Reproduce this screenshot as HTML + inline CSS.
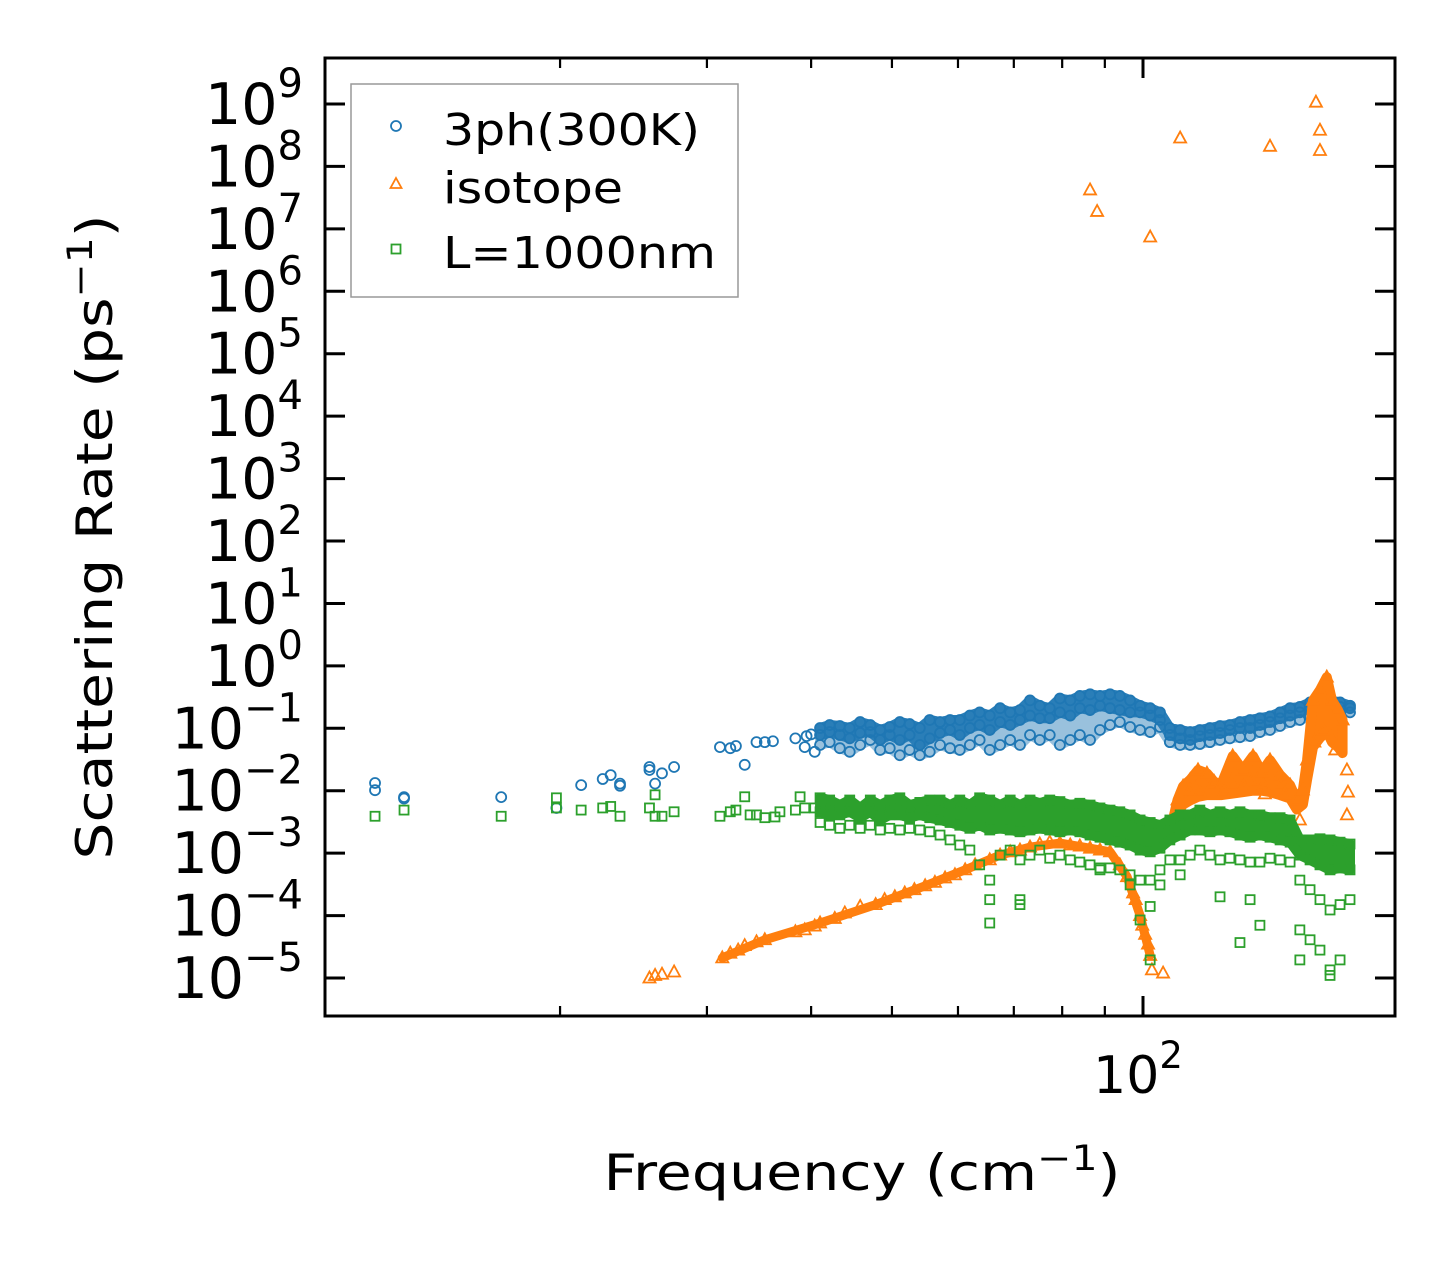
<!DOCTYPE html>
<html><head><meta charset="utf-8"><style>
html,body{margin:0;padding:0;background:#fff;}
svg{display:block;font-family:"DejaVu Sans","Liberation Sans",sans-serif;}
</style></head><body>
<svg id="chart" width="1455" height="1265" viewBox="0 0 1455 1265" xmlns="http://www.w3.org/2000/svg">
<rect width="1455" height="1265" fill="#fff"/>
<g id="marks"></g>
<g id="axes"></g>
<rect x="325" y="58" width="1070" height="958" fill="none" stroke="#000" stroke-width="3"/>
<text transform="translate(112,537) rotate(-90)" text-anchor="middle" font-size="50" textLength="645" lengthAdjust="spacingAndGlyphs">Scattering Rate (ps<tspan font-size="35" dy="-20">−1</tspan><tspan dy="20">)</tspan></text>
<text x="862" y="1190" text-anchor="middle" font-size="50" textLength="517" lengthAdjust="spacingAndGlyphs">Frequency (cm<tspan font-size="35" dy="-20">−1</tspan><tspan dy="20">)</tspan></text>
<g>
<rect x="351" y="84" width="387" height="213" fill="#fff" stroke="#999" stroke-width="1.5"/>
<circle cx="396" cy="126" r="5" fill="none" stroke="#1f77b4" stroke-width="1.8"/>
<text x="443" y="145" font-size="44" textLength="257" lengthAdjust="spacingAndGlyphs">3ph(300K)</text>
<polygon points="396,178 401.5,188 390.5,188" fill="none" stroke="#ff7f0e" stroke-width="1.8"/>
<text x="443" y="203" font-size="44" textLength="180" lengthAdjust="spacingAndGlyphs">isotope</text>
<rect x="391.5" y="244.5" width="9" height="9" fill="none" stroke="#2ca02c" stroke-width="1.8"/>
<text x="443" y="268" font-size="44" textLength="273" lengthAdjust="spacingAndGlyphs">L=1000nm</text>
</g>
</svg>
<script>
// ---- data ----
const bandFreq=[41.0,42.1,43.3,44.5,45.8,47.1,48.4,49.7,51.1,52.5,54.0,55.5,57.1,58.7,60.3,62.0,63.7,65.5,67.4,69.3,71.2,73.2,75.2,77.3,79.5,81.8,84.0,86.4,88.8,91.3,93.8,96.5,99.2,102.0,104.8,107.7,110.8,113.9,117.0,120.3,123.7,127.1,130.7,134.4,138.1,142.0,146.0,150.1,154.2,158.6,163.0,167.6,172.3,177.1];
const blueHi=[.101,.113,.109,.101,.126,.113,.094,.105,.126,.117,.101,.136,.126,.136,.136,.16,.18,.16,.21,.18,.196,.28,.23,.21,.30,.28,.33,.35,.33,.35,.33,.28,.23,.21,.18,.101,.094,.087,.094,.101,.109,.113,.126,.136,.145,.155,.18,.21,.22,.26,.30,.28,.26,.23];
const blueMid=[.078,.087,.078,.069,.084,.087,.065,.078,.065,.078,.054,.069,.084,.094,.078,.101,.113,.094,.126,.113,.136,.16,.145,.145,.18,.16,.21,.196,.23,.21,.196,.18,.18,.16,.136,.078,.069,.065,.075,.078,.084,.094,.101,.101,.113,.126,.145,.16,.18,.21,.23,.23,.22,.21];
const blueLo=[.054,.060,.048,.042,.054,.065,.045,.048,.037,.045,.037,.042,.054,.048,.045,.054,.065,.045,.054,.065,.054,.078,.065,.078,.054,.065,.078,.065,.094,.113,.126,.105,.094,.087,.105,.06,.054,.054,.056,.06,.065,.069,.072,.075,.087,.094,.109,.126,.136,.155,.18,.18,.18,.18];
const blueSparseF=[12.0,12.0,13.0,13.0,17.0,19.8,21.2,22.5,23.0,23.6,23.6,25.6,25.6,26.0,26.5,27.4,31.1,32.0,32.5,33.3,34.4,35.2,36.0,38.3,39.3,40.4,39.5,40.0];
const blueSparseV=[.0133,.0102,.0079,.0075,.0079,.0053,.0123,.0154,.0178,.013,.012,.024,.0215,.013,.019,.024,.050,.048,.052,.026,.060,.060,.062,.069,.050,.042,.075,.080];

const greenHi=[.0077,.0071,.0059,.0071,.0053,.0071,.0059,.0071,.0077,.0059,.0065,.0071,.0071,.0059,.0071,.0059,.0077,.0071,.0059,.0071,.0059,.0071,.0063,.0071,.0067,.0059,.0063,.0059,.0053,.0049,.0046,.0041,.0034,.0031,.0028,.0034,.0041,.0041,.0049,.0041,.0046,.0041,.0046,.0041,.0041,.0037,.0037,.0034,.00163,.00163,.0017,.00163,.0015,.0014];
const greenMid=[.0046,.0041,.0041,.0046,.0037,.0046,.0034,.0041,.0041,.0037,.0041,.0037,.0034,.0031,.0028,.0025,.0028,.00235,.0025,.00235,.0022,.00235,.0025,.00235,.0022,.00235,.0022,.00195,.0018,.00163,.0015,.00135,.00112,.00105,.0012,.00163,.00195,.00235,.00235,.0022,.00235,.0022,.00195,.0018,.00195,.0018,.00163,.0015,.00093,.00078,.00065,.00054,.00058,.00054];
const greenLo=[.0031,.0028,.0025,.0028,.0025,.0028,.00235,.0025,.00235,.0025,.00235,.0022,.00195,.00163,.00135,.00112,.00065,.00037,.00093,.00112,.00078,.00093,.00112,.00083,.00093,.00078,.00072,.00065,.00054,.00058,.00054,.00045,.00037,.00037,.00054,.00078,.00078,.00093,.00112,.00093,.00078,.00083,.00078,.00072,.00072,.00083,.00078,.00072,.00037,.00026,.00018,.000123,.00015,.00018];
const greenSparseF=[12.0,13.0,17.0,19.8,19.8,21.2,22.5,23.0,23.6,25.6,26.0,26.0,26.5,27.4,31.1,32.0,32.5,33.3,33.8,34.4,35.2,36.2,36.7,38.3,38.8,39.3,40.4,65.5,65.5,71.2,71.2,88.8,96.5,99.2,102.0,102.0,104.8,110.8,123.7,130.7,134.4,138.1,154.2,154.2,158.6,163.0,167.6,167.6,172.3];
const greenSparseV=[.0039,.0049,.0039,.0077,.0053,.0049,.0053,.0056,.0039,.0053,.0086,.0039,.0039,.0046,.0039,.0046,.0049,.0080,.0041,.0041,.0037,.0038,.0046,.0049,.0080,.0053,.0053,.00018,7.6e-5,.00018,.00015,.00058,.00031,8.5e-5,.00014,1.95e-5,.00031,.00045,.00020,3.7e-5,.00018,7e-5,5.9e-5,1.95e-5,4.1e-5,2.8e-5,1.35e-5,1.1e-5,1.95e-5];

// orange smooth lower branch (dense triangles)
const orangeCurveF=[31.3,35.2,41.0,47.8,54.8,61.2,67.4,73.2,79.5,86.4,91.3,95.7,99.2,102.0];
const orangeCurveV=[2.1e-5,4.1e-5,7.6e-5,1.5e-4,3.0e-4,5.4e-4,9.3e-4,1.25e-3,1.45e-3,1.2e-3,1.05e-3,4.2e-4,1.0e-4,2.3e-5];
// orange dense upper region (top and bottom envelopes)
const orangeUpF=[108.6,110.0,111.7,113.9,116.4,119.3,121.7,124.0,128.1,131.7,135.5,138.8,142.0,146.0,150.1,152.9,155.5,157.3,159.9,163.0,166.1,168.5,171.3,173.5];
const orangeUpHi=[3.4e-3,7.1e-3,0.0118,0.015,0.0215,0.019,0.014,0.0123,0.036,0.0215,0.036,0.020,0.031,0.018,0.0123,0.0071,0.0103,0.031,0.28,0.41,0.66,0.28,0.196,0.136];
const orangeUpLo=[2.5e-3,4.5e-3,6e-3,7e-3,8e-3,8.5e-3,8.5e-3,8.5e-3,9e-3,9.5e-3,0.01,0.01,9.5e-3,8.5e-3,7.5e-3,5e-3,6e-3,0.015,0.05,0.07,0.09,0.06,0.05,0.04];

const orangeF=[86.4,88.1,102.0,110.8,142.0,161.2,163.0,163.0,
25.6,26.0,26.5,27.4,31.3,32.0,32.7,33.3,34.4,35.2,38.3,39.3,40.4,41.0,42.7,43.9,45.8,47.8,49.0,50.4,51.8,53.2,54.8,56.3,57.9,59.5,61.2,62.9,65.5,67.4,69.3,71.2,73.2,75.2,77.3,79.5,81.8,84.0,86.4,88.8,91.3,93.8,95.7,97.3,98.0,99.2,99.8,100.6,101.4,102.0,102.5,105.7,
108.6,110.0,111.7,113.9,116.4,119.3,121.7,124.0,128.1,131.7,135.5,138.8,142.0,146.0,150.1,152.9,154.2,155.5,157.3,159.9,163.0,166.1,168.5,171.3,173.5,175.6,176.1,175.6,
113.9,121.0,128.1,134.4,139.5,146.0,160.5,164.5,170.0,117.0,125.0,132.0,140.0,148.0];
const orangeV=[4.2e7,1.9e7,7.4e6,2.85e8,2.1e8,1.07e9,3.8e8,1.8e8,
1.0e-5,1.1e-5,1.15e-5,1.25e-5,2.1e-5,2.5e-5,2.8e-5,3.3e-5,3.8e-5,4.1e-5,5.5e-5,5.9e-5,6.8e-5,7.6e-5,9e-5,1.1e-4,1.4e-4,1.5e-4,1.8e-4,2.0e-4,2.3e-4,2.6e-4,3.0e-4,3.4e-4,4.0e-4,4.5e-4,5.4e-4,6.5e-4,7.8e-4,9.3e-4,1.05e-3,1.12e-3,1.25e-3,1.4e-3,1.5e-3,1.45e-3,1.35e-3,1.3e-3,1.2e-3,1.12e-3,1.05e-3,6.5e-4,4.2e-4,2.3e-4,1.8e-4,1.0e-4,7e-5,5.0e-5,3.5e-5,2.3e-5,1.35e-5,1.2e-5,
3.4e-3,7.1e-3,0.0118,0.015,0.0215,0.019,0.014,0.0123,0.036,0.0215,0.036,0.020,0.031,0.018,0.0123,0.0071,0.0034,0.0103,0.031,0.28,0.41,0.66,0.28,0.196,0.136,0.0215,0.0095,0.0041,
0.0103,0.0123,0.0123,0.015,0.0123,0.0123,0.06,0.094,0.045,0.0095,0.0095,0.0118,0.0089,0.0089];

// ---- axes functions ----
const X0=1143, DEC_X=834, Y9=104, DEC_Y=62.43;
function xPix(f){return X0+DEC_X*(Math.log10(f)-2);}
function yPix(v){return Y9+DEC_Y*(9-Math.log10(v));}
const NS='http://www.w3.org/2000/svg';
const marks=document.getElementById('marks');
const axes=document.getElementById('axes');
function mk(tag,attrs,parent){const e=document.createElementNS(NS,tag);for(const k in attrs)e.setAttribute(k,attrs[k]);parent.appendChild(e);return e;}

function bandArea(F,hi,lo,color,name,op){
  const top=F.map((f,i)=>`${xPix(f)},${yPix(hi[i])}`);
  const bot=F.map((f,i)=>`${xPix(f)},${yPix(lo[i])}`).reverse();
  const e=mk('polygon',{points:top.concat(bot).join(' '),fill:color,stroke:color,'stroke-width':10,'stroke-linejoin':'round','opacity':op},marks);
  
  
}
function circ(f,v){const e=mk('circle',{cx:xPix(f),cy:yPix(v),r:5,fill:'none',stroke:'#1f77b4','stroke-width':1.8},marks);

}
function tri(f,v){const x=xPix(f),y=yPix(v);const e=mk('polygon',{points:`${x},${y-6.5} ${x+6},${y+4.5} ${x-6},${y+4.5}`,fill:'none',stroke:'#ff7f0e','stroke-width':1.8},marks);

}
function sq(f,v){const e=mk('rect',{x:xPix(f)-4.5,y:yPix(v)-4.5,width:9,height:9,fill:'none',stroke:'#2ca02c','stroke-width':1.8},marks);

}

// blue
bandArea(bandFreq,blueHi,blueLo,'#1f77b4','band-3ph-spread',0.45);
bandArea(bandFreq,blueHi,blueMid,'#1f77b4','band-3ph',0.9);
blueSparseF.forEach((f,i)=>circ(f,blueSparseV[i]));
bandFreq.forEach((f,i)=>{circ(f,blueHi[i]);circ(f,blueMid[i]);circ(f,blueLo[i]);});
// orange
const curve=mk('polyline',{points:orangeCurveF.map((f,i)=>`${xPix(f)},${yPix(orangeCurveV[i])}`).join(' '),fill:'none',stroke:'#ff7f0e','stroke-width':9,'stroke-linejoin':'round','stroke-linecap':'round'},marks);


bandArea(orangeUpF,orangeUpHi,orangeUpLo,'#ff7f0e','isotope-dense-region',1);
orangeF.forEach((f,i)=>tri(f,orangeV[i]));
// green
bandArea(bandFreq,greenHi,greenMid,'#2ca02c','band-l1000',1);
greenSparseF.forEach((f,i)=>sq(f,greenSparseV[i]));
bandFreq.forEach((f,i)=>{sq(f,greenHi[i]);sq(f,greenMid[i]);sq(f,greenLo[i]);});

// y ticks
const yExps=[9,8,7,6,5,4,3,2,1,0,-1,-2,-3,-4,-5];
yExps.forEach(e=>{
  const y=yPix(Math.pow(10,e));
  const t1=mk('line',{x1:325,y1:y,x2:345,y2:y,stroke:'#000','stroke-width':3},axes);
  
  
  const t2=mk('line',{x1:1375,y1:y,x2:1395,y2:y,stroke:'#000','stroke-width':3},axes);
  
  
  const tx=mk('text',{x:303,y:y+20,'text-anchor':'end','font-size':57},axes);
  
  
  tx.innerHTML='10<tspan font-size="40" dy="-27">'+(e<0?'−'+(-e):e)+'</tspan>';
});
// x ticks
const xMinor=[20,30,40,50,60,70,80,90];
xMinor.forEach(f=>{
  const x=xPix(f);
  const a=mk('line',{x1:x,y1:1016,x2:x,y2:1006,stroke:'#000','stroke-width':2.2},axes);
  
  
  const b=mk('line',{x1:x,y1:58,x2:x,y2:68,stroke:'#000','stroke-width':2.2},axes);
  
  
});
const xMajor=[100];
xMajor.forEach(f=>{
  const x=xPix(f);
  const a=mk('line',{x1:x,y1:1016,x2:x,y2:996,stroke:'#000','stroke-width':3},axes);
  
  
  const b=mk('line',{x1:x,y1:58,x2:x,y2:78,stroke:'#000','stroke-width':3},axes);
  
  
  const tx=mk('text',{x:x-5,y:1093,'text-anchor':'middle','font-size':52},axes);
  
  
  tx.innerHTML='10<tspan font-size="37" dy="-25">2</tspan>';
});
</script>
</body></html>
